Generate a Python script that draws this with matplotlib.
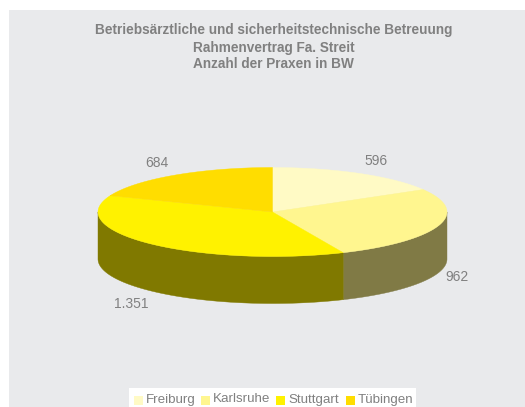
import numpy as np
import matplotlib
matplotlib.use("Agg")
import matplotlib.pyplot as plt
from matplotlib.patches import Rectangle

plt.rcParams['font.family'] = ['Liberation Sans', 'DejaVu Sans']

categories = ["Freiburg", "Karlsruhe", "Stuttgart", "Tübingen"]
values = [596, 962, 1351, 684]
value_labels = ["596", "962", "1.351", "684"]
title_lines = ["Betriebsärztliche und sicherheitstechnische Betreuung",
               "Rahmenvertrag Fa. Streit",
               "Anzahl der Praxen in BW"]

top_colors = ["#FFFAC5", "#FFF68F", "#FFF200", "#FFDD00"]
side_colors = ["#807D62", "#807A45", "#807900", "#806F00"]
grey = "#808080"

# pie geometry in pixels
cx, cy = 272.5, 212
rx, ry = 174.5, 44.5
depth = 47
label_pos = [(376, 161), (457, 277), (131, 304), (157, 163)]

fig = plt.figure(figsize=(5.25, 4.07), dpi=100)
ax = fig.add_axes([0, 0, 1, 1])
ax.set_xlim(0, 525)
ax.set_ylim(407, 0)
ax.axis("off")

ax.add_patch(Rectangle((9, 10), 516, 397, color="#E9EAEC", lw=0))

# slices go clockwise from 12 o'clock
ends = np.cumsum(values) / sum(values) * 2 * np.pi
starts = np.r_[0, ends[:-1]]

# side wall first, only the front half (angles 90..270 deg) is visible
for a0, a1, col in zip(starts, ends, side_colors):
    lo, hi = max(a0, np.pi / 2), min(a1, 3 * np.pi / 2)
    if hi <= lo:
        continue
    t = np.linspace(lo, hi, 100)
    x = cx + rx * np.sin(t)
    y = cy - ry * np.cos(t)
    ax.fill(np.r_[x, x[::-1]], np.r_[y, y[::-1] + depth], color=col, lw=0.3)

# top face
for a0, a1, col in zip(starts, ends, top_colors):
    t = np.linspace(a0, a1, 150)
    x = np.r_[cx, cx + rx * np.sin(t)]
    y = np.r_[cy, cy - ry * np.cos(t)]
    ax.fill(x, y, color=col, lw=0.3)

for lab, (lx, ly) in zip(value_labels, label_pos):
    ax.text(lx, ly, lab, color=grey, fontsize=10, ha="center", va="center")

for line, ty in zip(title_lines, [30, 48, 64.5]):
    ax.text(273.5, ty, line, color=grey, fontsize=9.8, fontweight="bold", ha="center", va="center")

# legend
ax.add_patch(Rectangle((129, 388), 287, 19, color="white", lw=0))
swatch_x = [134, 201, 276, 346]
text_x = [146, 213, 288, 358]
for name, sx, tx, col in zip(categories, swatch_x, text_x, top_colors):
    ax.add_patch(Rectangle((sx, 396), 9, 9, color=col, lw=0))
    ax.text(tx, 399.5, name, color=grey, fontsize=9.6, ha="left", va="center")

fig.savefig("out.png", dpi=100)
